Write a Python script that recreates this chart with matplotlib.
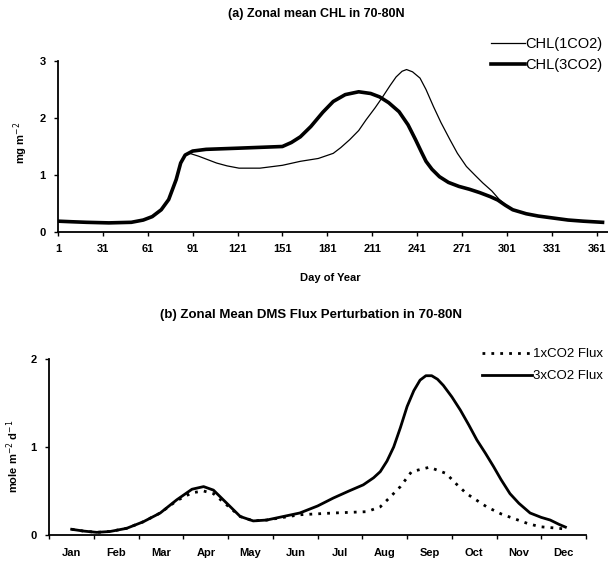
import numpy as np
import matplotlib
matplotlib.use("Agg")
import matplotlib.pyplot as plt

# (a) zonal mean CHL, day of year vs mg m-2
day_1co2 = [1, 10, 20, 35, 50, 58, 64, 70, 75, 80, 83, 86, 89, 95, 101, 107, 114, 122,
            136, 151, 163, 175, 185, 190, 196, 202, 207, 213, 218, 223, 227, 231, 234,
            238, 243, 247, 252, 257, 263, 268, 274, 280, 285, 291, 296, 301, 305, 314,
            322, 332, 342, 352, 365]
chl_1co2 = [0.19, 0.18, 0.17, 0.16, 0.17, 0.21, 0.27, 0.39, 0.57, 0.92, 1.21, 1.35, 1.38,
            1.33, 1.27, 1.21, 1.16, 1.12, 1.12, 1.17, 1.24, 1.29, 1.38, 1.48, 1.62, 1.78,
            1.97, 2.18, 2.37, 2.57, 2.72, 2.82, 2.85, 2.81, 2.70, 2.50, 2.20, 1.92, 1.62,
            1.38, 1.15, 0.99, 0.86, 0.72, 0.57, 0.46, 0.39, 0.32, 0.28, 0.245, 0.21, 0.19,
            0.17]

day_3co2 = [1, 10, 20, 35, 50, 58, 64, 70, 75, 80, 83, 86, 91, 100, 121, 151, 157, 163,
            170, 178, 185, 193, 202, 210, 216, 222, 229, 235, 240, 244, 247, 251, 256,
            262, 269, 276, 283, 290, 295, 300, 305, 314, 322, 332, 342, 352, 365]
chl_3co2 = [0.19, 0.18, 0.17, 0.16, 0.17, 0.21, 0.27, 0.39, 0.57, 0.92, 1.21, 1.35, 1.42,
            1.45, 1.47, 1.50, 1.57, 1.67, 1.85, 2.10, 2.29, 2.41, 2.46, 2.43, 2.37, 2.27,
            2.11, 1.88, 1.62, 1.40, 1.24, 1.10, 0.97, 0.87, 0.80, 0.75, 0.69, 0.62, 0.56,
            0.47, 0.39, 0.32, 0.28, 0.245, 0.21, 0.19, 0.17]
day_ticks = list(range(1, 362, 30))

# (b) DMS flux perturbation, position in months (0 = Jan)
months = ["Jan", "Feb", "Mar", "Apr", "May", "Jun",
          "Jul", "Aug", "Sep", "Oct", "Nov", "Dec"]
t_1x = [0, 0.26, 0.56, 0.86, 1.23, 1.6, 1.98, 2.35, 2.69, 2.95, 3.17, 3.47, 3.77, 4.06,
        4.36, 4.73, 5.1, 5.85, 6.6, 6.9, 7.1, 7.35, 7.6, 8.0, 8.37, 8.6, 8.83, 9.28, 9.6,
        9.87, 10.2, 10.47, 10.8, 11.04]
flux_1x = [0.065, 0.045, 0.03, 0.04, 0.076, 0.15, 0.25, 0.39, 0.48, 0.50, 0.47, 0.34,
           0.21, 0.16, 0.17, 0.20, 0.23, 0.25, 0.265, 0.32, 0.42, 0.55, 0.72, 0.77, 0.70,
           0.58, 0.47, 0.32, 0.24, 0.19, 0.13, 0.094, 0.08, 0.068]

t_3x = [0, 0.26, 0.56, 0.86, 1.23, 1.6, 1.98, 2.35, 2.69, 2.95, 3.17, 3.47, 3.77, 4.06,
        4.36, 4.73, 5.1, 5.5, 5.85, 6.2, 6.52, 6.75, 6.9, 7.05, 7.2, 7.35, 7.5, 7.65, 7.79,
        7.92, 8.05, 8.18, 8.31, 8.5, 8.69, 8.88, 9.06, 9.25, 9.43, 9.6, 9.8, 10.0, 10.25,
        10.5, 10.7, 10.9, 11.04]
flux_3x = [0.065, 0.045, 0.03, 0.04, 0.076, 0.15, 0.25, 0.40, 0.52, 0.55, 0.51, 0.36,
           0.21, 0.16, 0.17, 0.21, 0.25, 0.33, 0.42, 0.50, 0.57, 0.65, 0.72, 0.84, 1.0,
           1.22, 1.46, 1.64, 1.76, 1.81, 1.81, 1.77, 1.70, 1.57, 1.42, 1.25, 1.08, 0.93,
           0.78, 0.63, 0.47, 0.36, 0.25, 0.20, 0.17, 0.12, 0.09]

plt.rcParams['font.family'] = ['Liberation Sans', 'DejaVu Sans']

fig = plt.figure(figsize=(6.08, 5.67), dpi=100)

def style_axes(ax):
    for s in ("top", "right"):
        ax.spines[s].set_visible(False)
    for s in ("left", "bottom"):
        ax.spines[s].set_linewidth(1.3)
    ax.tick_params(direction="out", length=3, width=1, labelsize=8, pad=6)
    for lab in ax.get_xticklabels() + ax.get_yticklabels():
        lab.set_fontweight("bold")

# top panel
ax1 = fig.add_axes([58 / 608, 1 - 232 / 567, 555 / 608, 171 / 567])
ax1.plot(day_1co2, chl_1co2, color="black", lw=0.9, label="CHL(1CO2)")
ax1.plot(day_3co2, chl_3co2, color="black", lw=2.6, label="CHL(3CO2)")
ax1.set_xlim(1, 372)
ax1.set_ylim(0, 3)
ax1.set_xticks(day_ticks)
ax1.set_yticks([0, 1, 2, 3])
style_axes(ax1)
ax1.set_xlabel("Day of Year", fontsize=8, fontweight="bold")
ax1.xaxis.set_label_coords(0.49, -0.24)
ax1.set_ylabel(r"mg m$^{-2}$", fontsize=8, fontweight="bold")
ax1.yaxis.set_label_coords(-0.05, 0.52)
fig.text(316 / 608, 1 - 14 / 567, "(a) Zonal mean CHL in 70-80N", ha="center",
         va="center", fontsize=9, fontweight="bold")
ax1.legend(loc="upper left", bbox_to_anchor=(491 / 608, 1 - 37 / 567),
           bbox_transform=fig.transFigure, frameon=False, fontsize=10.5,
           handlelength=2.3, handletextpad=0.05, labelspacing=0.5, borderpad=0,
           borderaxespad=0)

# bottom panel
ax2 = fig.add_axes([49.3 / 608, 1 - 535 / 567, 536.7 / 608, 176 / 567])
ax2.plot(t_1x, flux_1x, color="black", lw=2.0, ls=(0, (1, 2.2)), label="1xCO2 Flux")
ax2.plot(t_3x, flux_3x, color="black", lw=2.0, label="3xCO2 Flux")
ax2.set_xlim(-0.5, 11.5)
ax2.set_ylim(0, 2)
ax2.set_yticks([0, 1, 2])
ax2.set_xticks(range(12))
ax2.set_xticklabels(months)
ax2.set_xticks(np.arange(-0.5, 12, 1), minor=True)
style_axes(ax2)
ax2.tick_params(axis="x", which="major", length=0, pad=9)
ax2.tick_params(axis="x", which="minor", direction="out", length=3, width=1)
ax2.set_ylabel(r"mole m$^{-2}$ d$^{-1}$", fontsize=8, fontweight="bold")
ax2.yaxis.set_label_coords(-0.053, 0.45)
fig.text(311 / 608, 1 - 315 / 567, "(b) Zonal Mean DMS Flux Perturbation in 70-80N",
         ha="center", va="center", fontsize=9.5, fontweight="bold")
ax2.legend(loc="upper left", bbox_to_anchor=(482 / 608, 1 - 348 / 567),
           bbox_transform=fig.transFigure, frameon=False, fontsize=9.5,
           handlelength=3.8, handletextpad=0.05, labelspacing=0.75, borderpad=0,
           borderaxespad=0)

fig.savefig("out.png", dpi=100)
